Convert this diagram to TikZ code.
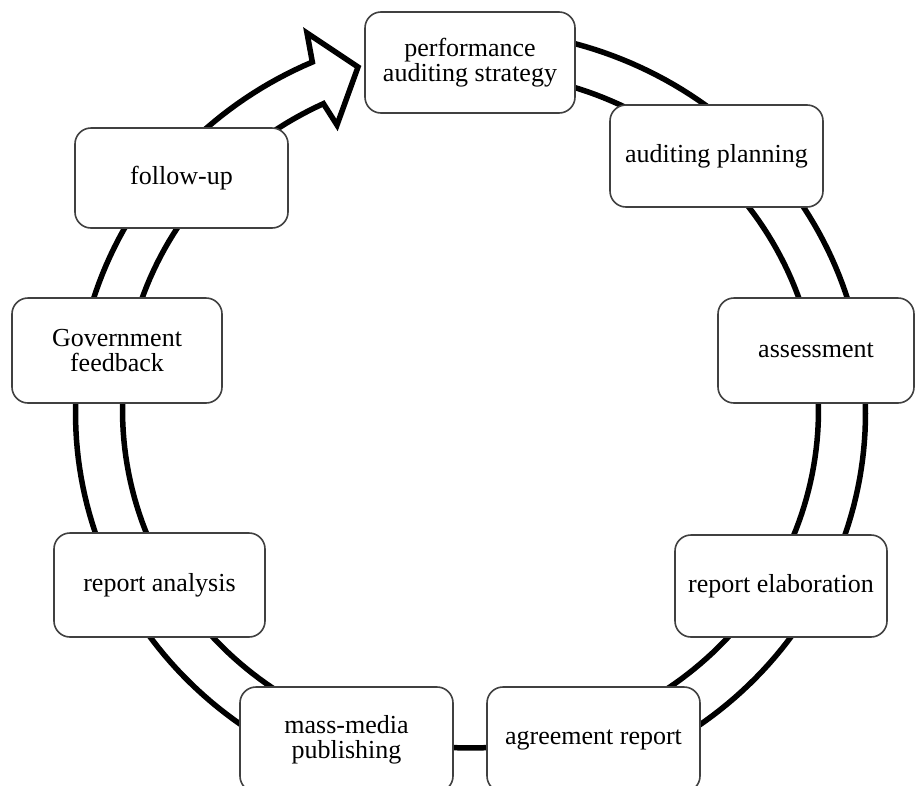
\documentclass[tikz,border=0pt]{standalone}
\usepackage{fontspec}
\setmainfont{Liberation Serif}
\begin{document}
\begin{tikzpicture}[x=1pt,y=-1pt,
  band/.style={draw=black, line width=5.5pt, fill=white, line join=miter},
  stepbox/.style={draw=black!75, line width=1.6pt, rounded corners=16pt, fill=white,
    align=center, inner sep=0pt, font=\fontsize{26}{25}\selectfont}]
\useasboundingbox (0,0) rectangle (916,785);
\clip (0,0) rectangle (916,785);
% circular arrow band
\draw[band] plot[domain=-90:246.4, samples=240] ({470.5+395*cos(\x)}, {413+383*sin(\x)})
  -- (307,33) -- (358,67) -- (337,125)
  -- plot[domain=245:-90, samples=240] ({470.5+348*cos(\x)}, {410+338*sin(\x)}) -- cycle;
% boxes
\node[stepbox, minimum width=210, minimum height=101] (strat) at (470,62.5) {performance\\auditing strategy};
\node[stepbox, minimum width=213, minimum height=102] (plan) at (716.5,156) {auditing planning};
\node[stepbox, minimum width=196, minimum height=105] (assess) at (816,350.5) {assessment};
\node[stepbox, minimum width=212, minimum height=102] (elab) at (781,586) {report elaboration};
\node[stepbox, minimum width=213, minimum height=105] (agree) at (593.5,739.5) {agreement report};
\node[stepbox, minimum width=213, minimum height=105] (media) at (346.5,739.5) {mass-media\\publishing};
\node[stepbox, minimum width=211, minimum height=104] (analysis) at (159.5,585) {report analysis};
\node[stepbox, minimum width=210, minimum height=105] (gov) at (117,350.5) {Government\\feedback};
\node[stepbox, minimum width=213, minimum height=100] (follow) at (181.5,178) {follow-up};
\end{tikzpicture}
\end{document}
